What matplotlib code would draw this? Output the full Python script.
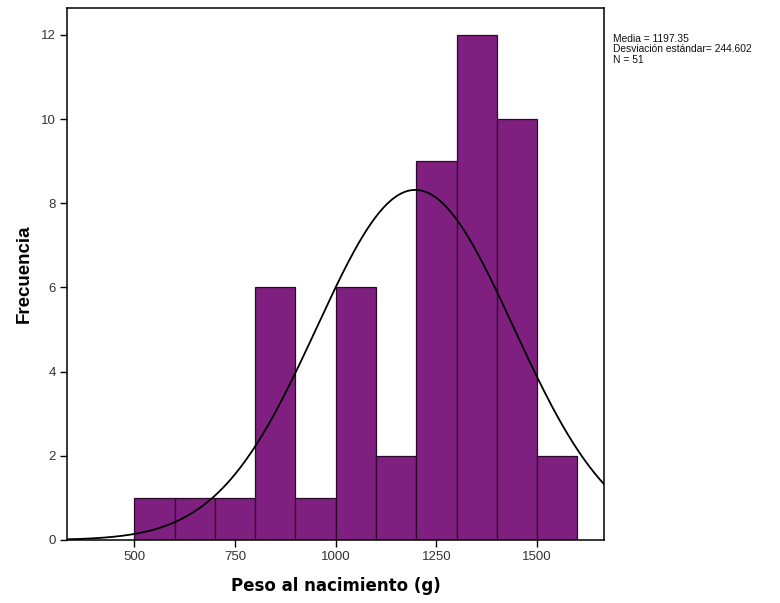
import matplotlib
matplotlib.use("Agg")
import matplotlib.pyplot as plt
import numpy as np

# Birth weight histogram (100 g bins) with fitted normal curve
bin_edges = [500, 600, 700, 800, 900, 1000, 1100, 1200, 1300, 1400, 1500, 1600]
counts = [1, 1, 1, 6, 1, 6, 2, 9, 12, 10, 2]
mean_w = 1197.35
sd_w = 244.602
n_total = 51

xticks = [500, 750, 1000, 1250, 1500]
yticks = [0, 2, 4, 6, 8, 10, 12]

fig = plt.figure(figsize=(7.8, 6.03), dpi=100)
ax = fig.add_axes([0.0859, 0.1045, 0.6885, 0.8822])

left = np.array(bin_edges[:-1])
widths = np.diff(bin_edges)
ax.bar(left, counts, width=widths, align='edge', color='#7f1f7f',
       edgecolor='#2a0a2a', linewidth=0.9, zorder=2)

xmin, xmax = 333, 1666
xs = np.linspace(xmin, xmax, 400)
bw = widths[0]
ys = n_total * bw / (sd_w * np.sqrt(2 * np.pi)) * np.exp(-0.5 * ((xs - mean_w) / sd_w) ** 2)
ax.plot(xs, ys, color='black', linewidth=1.3, zorder=3)

ax.set_xlim(xmin, xmax)
ax.set_ylim(0, 12.64)
ax.set_xticks(xticks)
ax.set_yticks(yticks)
ax.tick_params(direction='out', length=5, width=1, labelsize=9.5,
               labelcolor='#333333', pad=3)
for lbl in ax.get_xticklabels() + ax.get_yticklabels():
    lbl.set_family('Liberation Sans')
for s in ax.spines.values():
    s.set_linewidth(1.1)

ax.set_xlabel('Peso al nacimiento (g)', fontsize=12, fontweight='bold', labelpad=10)
ax.set_ylabel('Frecuencia', fontsize=13.5, fontweight='bold',
              family='Liberation Sans', labelpad=6)

fig.text(613 / 780, 1 - 34 / 603,
         f'Media = {mean_w}\nDesviación estándar= {sd_w}\nN = {n_total}',
         fontsize=7.4, family='Liberation Sans', va='top', ha='left',
         linespacing=1.05, color='#111111')

fig.savefig('out.png', dpi=100)
